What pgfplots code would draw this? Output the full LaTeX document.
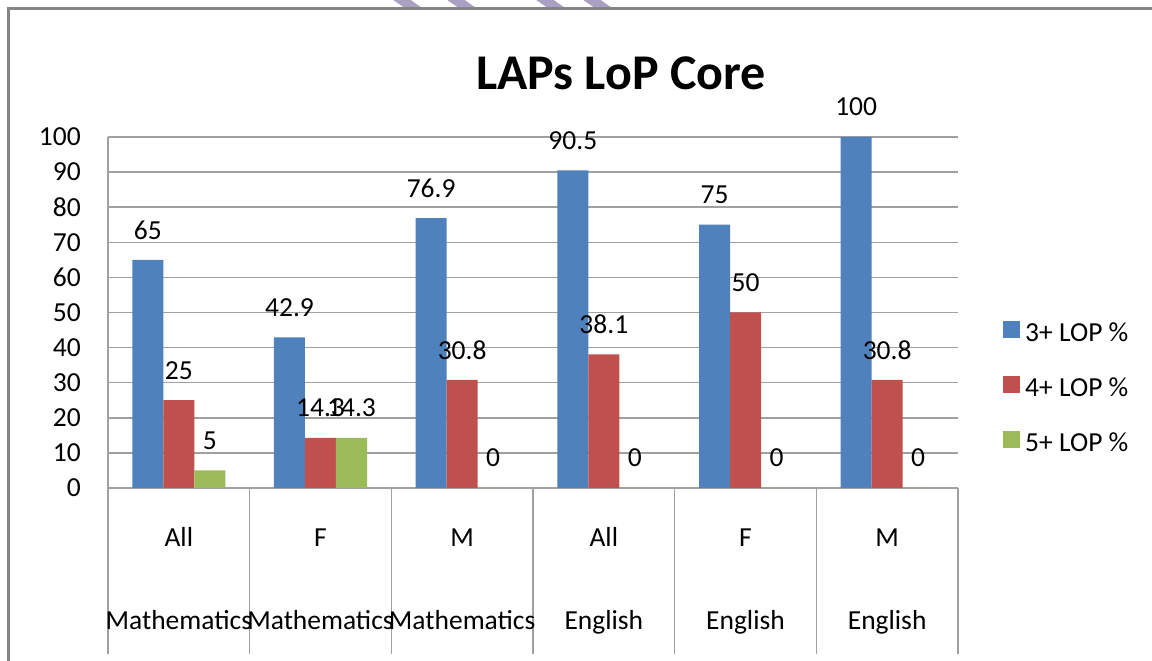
\documentclass[border=0pt]{standalone}
\usepackage{pgfplots}
\pgfplotsset{compat=1.18}
\usepackage{fontspec}
\setmainfont{Carlito}
\definecolor{cblue}{HTML}{4F81BD}
\definecolor{cred}{HTML}{C0504D}
\definecolor{cgreen}{HTML}{9BBB59}
\definecolor{gridc}{HTML}{A0A0A0}
\definecolor{framec}{HTML}{858585}
\definecolor{wmc}{HTML}{AAA1C2}
\newcommand{\lab}{\fontsize{27.5}{33}\selectfont}
\begin{document}
\begin{tikzpicture}[x=1pt,y=1pt]
\useasboundingbox (0,0) rectangle (1152,661);
\fill[white] (0,0) rectangle (1152,661);
\begin{scope}
  \clip (0,652) rectangle (1152,661);
  \foreach \c in {402,456,545,592} {
    \draw[wmc, line width=10pt] (\c-10,668) -- (\c+20,647);
  }
\end{scope}
\draw[framec, line width=3pt] (8,0) -- (8,652) -- (1152,652);
\node[font=\fontsize{50}{60}\selectfont\bfseries, anchor=base] at (621,571) {LAPs LoP Core};
\begin{axis}[
  at={(108pt,173pt)}, anchor=south west,
  scale only axis, width=850pt, height=351pt,
  xmin=-0.5, xmax=5.5, ymin=0, ymax=100,
  ybar=0pt, bar width=31pt,
  axis lines*=left,
  axis line style={gridc, line width=1.5pt},
  ytick={0,10,...,100},
  ymajorgrids, major grid style={gridc, line width=1.5pt},
  ytick style={draw=none},
  xtick={-0.5,0.5,...,5.5},
  xticklabels={},
  xtick style={gridc, line width=1.5pt},
  major tick length=166pt, tick align=outside,
  /pgf/number format/assume math mode=true,
  yticklabel style={font=\lab, anchor=east, inner sep=0pt, xshift=139pt},
  point meta=explicit symbolic,
  nodes near coords,
  nodes near coords style={font=\lab, anchor=center, yshift=30pt, inner sep=0pt},
  clip=false,
  legend cell align=left,
  legend style={at={(1.053,0.285)}, anchor=west, draw=none, fill=none,
    inner sep=0pt, font=\lab, row sep=31pt},
  legend image code/.code={\fill[#1, draw=none] (0pt,-5pt) rectangle (16.5pt,12pt);
    \path (0pt,0pt) -- (20pt,0pt);},
]
\addplot[fill=cblue, draw=none] coordinates {(0,65) [65] (1,42.9) [42.9] (2,76.9) [76.9] (3,90.5) [90.5] (4,75) [75] (5,100) [100]};
\addplot[fill=cred, draw=none] coordinates {(0,25) [25] (1,14.3) [14.3] (2,30.8) [30.8] (3,38.1) [38.1] (4,50) [50] (5,30.8) [30.8]};
\addplot[fill=cgreen, draw=none] coordinates {(0,5) [5] (1,14.3) [14.3] (2,0) [0] (3,0) [0] (4,0) [0] (5,0) [0]};
\legend{3+ LOP \%, 4+ LOP \%, 5+ LOP \%}
\foreach \i/\a/\b in {0/All/Mathematics, 1/F/Mathematics, 2/M/Mathematics, 3/All/English, 4/F/English, 5/M/English} {
  \edef\temp{\noexpand\node[font=\noexpand\lab, anchor=base, yshift=-59pt] at (axis cs:\i,0) {\a};
    \noexpand\node[font=\noexpand\lab, anchor=base, yshift=-142pt] at (axis cs:\i,0) {\b};}
  \temp
}
\end{axis}
\end{tikzpicture}
\end{document}
